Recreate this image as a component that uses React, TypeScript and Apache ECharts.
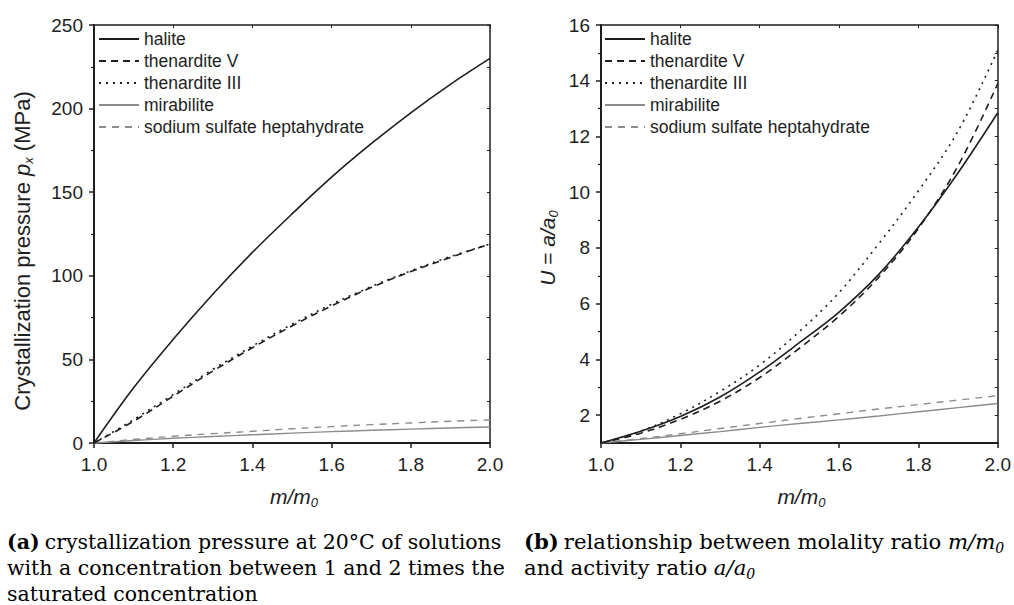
import React, { useEffect, useRef } from "react";
import * as echarts from "echarts";

// ---- data ----
const mRatio = [1.0, 1.1, 1.2, 1.3, 1.4, 1.5, 1.6, 1.7, 1.8, 1.9, 2.0];

// (a) crystallization pressure (MPa)
const haliteP = [0, 33, 62, 89, 114, 137, 159, 179, 197.5, 214.5, 230];
const thenarditeVP = [0, 13, 28, 43, 57, 70, 82, 93, 102.5, 111, 119];
const thenarditeIIIP = [0, 14, 29, 44, 58, 71, 83, 93.5, 103, 111.5, 119];
const mirabiliteP = [0, 1.5, 2.8, 3.9, 4.9, 5.9, 6.8, 7.6, 8.3, 9.0, 9.6];
const heptahydrateP = [0, 2.1, 4.0, 5.6, 7.0, 8.5, 9.8, 11.0, 12.0, 13.0, 13.8];

// (b) activity ratio U = a/a0
const haliteU = [1, 1.42, 1.95, 2.65, 3.55, 4.6, 5.7, 7.05, 8.75, 10.7, 12.85];
const thenarditeVU = [1, 1.35, 1.85, 2.5, 3.35, 4.4, 5.55, 6.95, 8.7, 10.95, 13.9];
const thenarditeIIIU = [1, 1.42, 2.05, 2.85, 3.8, 5.0, 6.4, 8.15, 10.05, 12.2, 15.1];
const mirabiliteU = [1, 1.13, 1.27, 1.41, 1.56, 1.7, 1.83, 1.97, 2.12, 2.27, 2.42];
const heptahydrateU = [1, 1.16, 1.33, 1.52, 1.7, 1.88, 2.05, 2.22, 2.38, 2.54, 2.7];

const seriesNames = ["halite", "thenardite V", "thenardite III", "mirabilite", "sodium sulfate heptahydrate"];

const xTicks = [1.0, 1.2, 1.4, 1.6, 1.8, 2.0];
const pTicks = [0, 50, 100, 150, 200, 250];
const pMinorTicks = [25, 75, 125, 175, 225];
const uTicks = [2, 4, 6, 8, 10, 12, 14, 16];
const uMinorTicks = [3, 5, 7, 9, 11, 13, 15];

const captionA = [
  "crystallization pressure at 20°C of solutions",
  "with a concentration between 1 and 2 times the",
  "saturated concentration",
];
const captionB1 = "relationship between molality ratio ";
const captionB2 = "and activity ratio ";

// ---- styles ----
const BLACK = "#1e1e1e";
const GRAY = "#8c8c8c";
const SANS = "Liberation Sans, Arial, sans-serif";
const SERIF = "DejaVu Serif, serif";

const styles = [
  { color: BLACK, type: "solid", width: 1.6 },
  { color: BLACK, type: [7, 5], width: 1.6 },
  { color: BLACK, type: [2, 5], width: 1.6 },
  { color: GRAY, type: "solid", width: 1.4 },
  { color: GRAY, type: [7, 6], width: 1.4 },
];

function makeSeries(gridIdx: number, sets: number[][]) {
  return sets.map((vals, k) => ({
    type: "line",
    name: seriesNames[k],
    xAxisIndex: gridIdx * 2,
    yAxisIndex: gridIdx * 3,
    data: mRatio.map((m, i) => [m, vals[i]]),
    symbol: "none",
    smooth: 0.35,
    lineStyle: { ...styles[k] },
    itemStyle: { color: styles[k].color },
    z: 5 - k,
  }));
}

const GRID_TOP = 25;
const GRID_H = 418;
const GRIDS = [
  { left: 94, top: GRID_TOP, width: 396, height: GRID_H },
  { left: 601, top: GRID_TOP, width: 397, height: GRID_H },
];

const tickLabelStyle = { fontSize: 19, fontFamily: SANS, color: BLACK };
function nameRich(size: number) {
  return {
    n: { fontSize: size, fontFamily: SANS, color: BLACK, lineHeight: 26, verticalAlign: "middle" },
    i: { fontSize: size, fontFamily: SANS, fontStyle: "italic", color: BLACK, lineHeight: 26, verticalAlign: "middle" },
    s: { fontSize: 13, fontFamily: SANS, fontStyle: "italic", color: BLACK, lineHeight: 13, verticalAlign: "bottom" },
  };
}

function xAxes(gridIndex: number) {
  return [
    {
      type: "value",
      gridIndex,
      position: "bottom",
      min: 1,
      max: 2,
      name: "{i|m/m}{s|0}",
      nameLocation: "middle",
      nameGap: 40,
      nameTextStyle: { rich: nameRich(21), padding: [0, 0, 0, 4] },
      axisLine: { show: true, onZero: false, lineStyle: { color: BLACK, width: 2 } },
      axisTick: { show: true, customValues: xTicks, length: 5, lineStyle: { color: BLACK, width: 1.5 } },
      axisLabel: { customValues: xTicks, margin: 12, formatter: (v: number) => v.toFixed(1), ...tickLabelStyle },
      splitLine: { show: false },
    },
    {
      type: "value",
      gridIndex,
      position: "top",
      min: 1,
      max: 2,
      axisLine: { show: true, onZero: false, lineStyle: { color: BLACK, width: 1.5 } },
      axisTick: { show: true, inside: true, customValues: xTicks, length: 3, lineStyle: { color: BLACK } },
      axisLabel: { show: false },
      splitLine: { show: false },
    },
  ];
}

function yAxes(
  gridIndex: number,
  min: number,
  max: number,
  major: number[],
  minor: number[],
  name: string,
  nameGap: number,
  nameSize: number,
  namePadRight: number
) {
  return [
    {
      type: "value",
      gridIndex,
      position: "left",
      min,
      max,
      name,
      nameLocation: "middle",
      nameGap,
      nameTextStyle: { rich: nameRich(nameSize), padding: [0, namePadRight, 0, 0] },
      axisLine: { show: true, onZero: false, lineStyle: { color: BLACK, width: 2 } },
      axisTick: { show: true, customValues: major, length: 5, lineStyle: { color: BLACK, width: 1.5 } },
      axisLabel: { customValues: major, margin: 11, ...tickLabelStyle },
      splitLine: { show: false },
    },
    {
      type: "value",
      gridIndex,
      position: "left",
      min,
      max,
      axisLine: { show: false },
      axisTick: { show: true, customValues: minor, length: 3, lineStyle: { color: BLACK, width: 1.2 } },
      axisLabel: { show: false },
      splitLine: { show: false },
    },
    {
      type: "value",
      gridIndex,
      position: "right",
      min,
      max,
      axisLine: { show: true, onZero: false, lineStyle: { color: BLACK, width: 1.5 } },
      axisTick: { show: true, inside: true, customValues: major.concat(minor), length: 3, lineStyle: { color: BLACK } },
      axisLabel: { show: false },
      splitLine: { show: false },
    },
  ];
}

function legendAt(left: number) {
  return {
    left,
    top: 25,
    orient: "vertical",
    itemWidth: 40,
    itemHeight: 14,
    itemGap: 4,
    selectedMode: false,
    itemStyle: { opacity: 0, borderWidth: 0 },
    textStyle: { fontSize: 17.5, fontFamily: SANS, color: BLACK },
    data: seriesNames,
  };
}

const CAP_LH = 26;
const CAP_FILL = "#1a1a1a";
function capRich(size: number) {
  return {
    b: { fontFamily: SERIF, fontSize: size, fontWeight: "bold", color: CAP_FILL, lineHeight: CAP_LH, padding: [0, 5, 0, 0] },
    r: { fontFamily: SERIF, fontSize: size, color: CAP_FILL, lineHeight: CAP_LH },
    i: { fontFamily: SERIF, fontSize: size, fontStyle: "italic", color: CAP_FILL, lineHeight: CAP_LH },
    s: { fontFamily: SERIF, fontSize: 14, fontStyle: "italic", color: CAP_FILL, verticalAlign: "bottom", lineHeight: 18 },
  };
}

export default function App() {
  const ref = useRef<HTMLDivElement>(null);
  useEffect(() => {
    document.body.style.margin = "0";
    const chart = echarts.init(ref.current!, null, { renderer: "svg" });
    const option: any = {
      animation: false,
      backgroundColor: "#ffffff",
      grid: GRIDS,
      xAxis: [...xAxes(0), ...xAxes(1)],
      yAxis: [
        ...yAxes(0, 0, 250, pTicks, pMinorTicks, "{n|Crystallization pressure }{i|p}{s|x}{n| (MPa)}", 59, 22, 34),
        ...yAxes(1, 1, 16, uTicks, uMinorTicks, "{i|U}{n| = }{i|a/a}{s|0}", 41, 21, 28),
      ],
      legend: [legendAt(93), legendAt(599)],
      series: [
        ...makeSeries(0, [haliteP, thenarditeVP, thenarditeIIIP, mirabiliteP, heptahydrateP]),
        ...makeSeries(1, [haliteU, thenarditeVU, thenarditeIIIU, mirabiliteU, heptahydrateU]),
      ],
      graphic: [
        {
          type: "text",
          left: 7,
          top: 531,
          style: {
            rich: capRich(20.5),
            text: "{b|(a)}{r|" + captionA[0] + "}\n{r|" + captionA[1] + "}\n{r|" + captionA[2] + "}",
          },
        },
        {
          type: "text",
          left: 524,
          top: 531,
          style: {
            rich: capRich(21.2),
            text: "{b|(b)}{r|" + captionB1 + "}{i|m/m}{s|0}\n{r|" + captionB2 + "}{i|a/a}{s|0}",
          },
        },
      ],
    };
    chart.setOption(option);
    return () => chart.dispose();
  }, []);
  return <div ref={ref} style={{ width: 1014, height: 605 }} />;
}
